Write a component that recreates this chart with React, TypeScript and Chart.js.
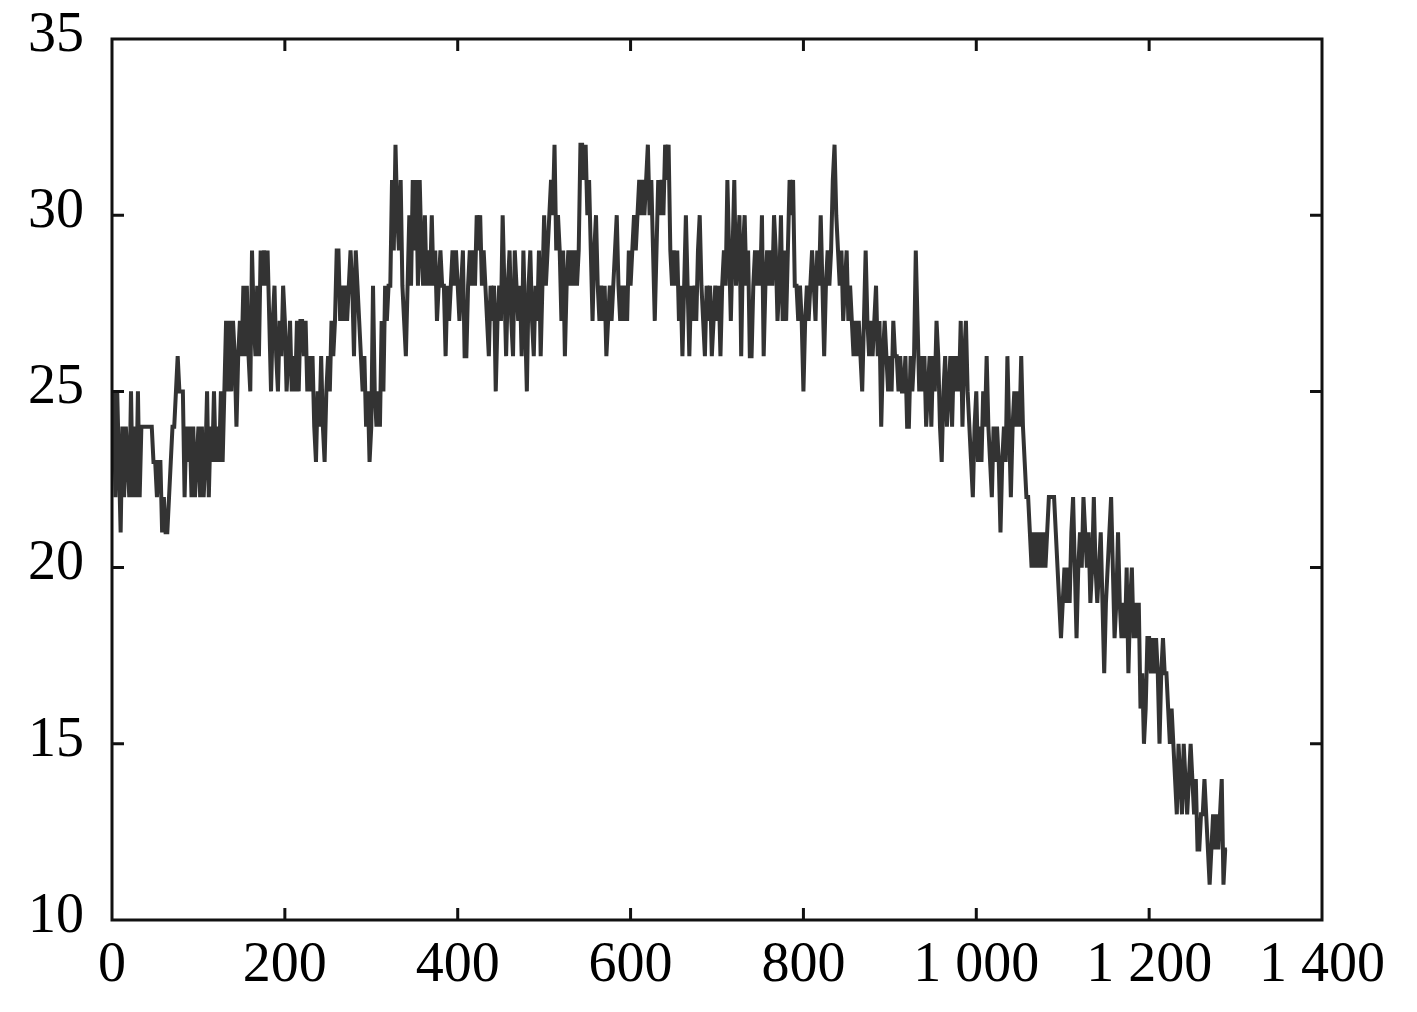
import React, { useEffect, useRef } from "react";
import { Chart, registerables } from "chart.js";

Chart.register(...registerables);

const sampleStep = 2;
const y0000 = [23, 25, 22, 25, 23, 21, 24, 22, 24, 23, 22, 25, 22, 24, 22, 25, 22, 24, 24, 24, 24, 24, 24, 24, 23, 23, 22, 23, 23, 21, 22, 21, 21, 22, 23, 24, 24, 25, 26, 25, 25, 25, 22, 24, 23, 24, 22, 24, 22, 23];
const y0100 = [24, 22, 24, 22, 23, 25, 22, 24, 23, 25, 23, 24, 23, 25, 23, 25, 27, 25, 27, 25, 27, 26, 24, 26, 27, 26, 28, 26, 28, 26, 25, 29, 27, 26, 28, 26, 29, 28, 29, 28, 29, 27, 25, 27, 28, 26, 25, 27, 26, 28];
const y0200 = [27, 25, 26, 27, 25, 26, 25, 27, 25, 27, 27, 26, 27, 25, 26, 25, 26, 24, 23, 25, 24, 26, 24, 23, 25, 26, 25, 27, 26, 27, 29, 29, 27, 28, 27, 28, 27, 28, 29, 28, 26, 29, 28, 27, 26, 25, 26, 24, 25, 23];
const y0300 = [24, 28, 25, 24, 25, 24, 27, 25, 28, 27, 28, 28, 31, 29, 32, 30, 29, 31, 28, 27, 26, 28, 30, 28, 31, 29, 31, 28, 31, 29, 28, 30, 28, 29, 28, 30, 28, 29, 27, 28, 29, 28, 28, 26, 28, 27, 28, 29, 28, 29];
const y0400 = [28, 27, 28, 29, 26, 26, 28, 29, 28, 29, 28, 30, 29, 30, 28, 29, 28, 27, 26, 28, 27, 28, 25, 27, 28, 27, 30, 28, 26, 28, 29, 27, 26, 29, 28, 27, 28, 26, 29, 27, 25, 28, 29, 27, 26, 28, 27, 29, 26, 28];
const y0500 = [30, 28, 29, 30, 31, 30, 32, 29, 30, 29, 27, 29, 26, 28, 29, 28, 29, 28, 29, 28, 29, 32, 32, 31, 32, 30, 31, 29, 27, 29, 30, 28, 27, 28, 27, 28, 26, 27, 28, 27, 28, 29, 30, 28, 27, 28, 27, 28, 27, 29];
const y0600 = [28, 29, 30, 29, 30, 31, 30, 31, 30, 31, 32, 30, 31, 29, 27, 29, 31, 30, 31, 30, 32, 31, 32, 29, 28, 29, 28, 29, 27, 28, 26, 28, 30, 28, 26, 28, 27, 28, 27, 29, 30, 28, 27, 26, 28, 27, 28, 26, 27, 28];
const y0700 = [27, 28, 26, 28, 29, 28, 31, 29, 27, 29, 31, 28, 29, 30, 26, 29, 30, 28, 29, 26, 26, 28, 29, 28, 29, 28, 30, 26, 28, 29, 28, 29, 28, 30, 29, 27, 28, 30, 27, 29, 27, 29, 31, 30, 31, 28, 28, 27, 28, 27];
const y0800 = [25, 27, 28, 27, 28, 29, 28, 27, 29, 28, 30, 28, 26, 28, 29, 28, 29, 31, 32, 30, 29, 28, 29, 27, 28, 29, 27, 28, 27, 26, 27, 26, 27, 26, 25, 27, 29, 27, 26, 27, 26, 27, 28, 26, 27, 24, 26, 27, 26, 25];
const y0900 = [26, 25, 27, 26, 26, 25, 26, 25, 25, 26, 24, 24, 26, 25, 26, 29, 27, 25, 26, 25, 26, 24, 25, 26, 24, 26, 25, 27, 26, 24, 23, 25, 26, 24, 25, 26, 24, 26, 25, 26, 25, 27, 24, 26, 27, 25, 24, 23, 22, 24];
const y1000 = [25, 23, 24, 23, 25, 24, 26, 24, 23, 22, 24, 23, 24, 23, 21, 23, 24, 23, 26, 24, 22, 24, 25, 24, 25, 24, 26, 24, 23, 22, 22, 21, 20, 21, 20, 21, 20, 21, 20, 21, 20, 21, 22, 22, 22, 22, 21, 20, 19, 18];
const y1100 = [19, 20, 19, 20, 19, 21, 22, 20, 18, 20, 21, 20, 22, 21, 20, 21, 19, 20, 22, 20, 19, 20, 21, 19, 17, 19, 20, 21, 22, 20, 18, 19, 21, 19, 18, 19, 18, 20, 17, 19, 20, 18, 19, 18, 19, 16, 17, 15, 16, 18];
const y1200 = [18, 17, 18, 17, 18, 17, 15, 17, 18, 17, 17, 16, 15, 16, 15, 14, 13, 15, 14, 13, 15, 14, 13, 14, 15, 14, 13, 14, 12, 12, 13, 13, 14, 13, 12, 11, 12, 13, 12, 13, 12, 13, 14, 11, 12, 12];

const yValues = [
  ...y0000, ...y0100, ...y0200, ...y0300, ...y0400, ...y0500, ...y0600,
  ...y0700, ...y0800, ...y0900, ...y1000, ...y1100, ...y1200,
];

const xMin = 0;
const xMax = 1400;
const xStep = 200;
const yMin = 10;
const yMax = 35;
const yStep = 5;

const FONT = "'Liberation Serif', 'Times New Roman', serif";

function fmt(v: number): string {
  const s = String(Math.round(v));
  return s.replace(/\B(?=(\d{3})+(?!\d))/g, " ");
}

const framePlugin = {
  id: "frameTicks",
  afterDraw(chart: any) {
    const { ctx, chartArea } = chart;
    const { left, right, top, bottom } = chartArea;
    const xs = chart.scales.x;
    const ys = chart.scales.y;
    const len = 12;
    ctx.save();
    ctx.strokeStyle = "#111111";
    ctx.lineWidth = 3;
    ctx.lineCap = "butt";
    ctx.strokeRect(left, top, right - left, bottom - top);
    ctx.beginPath();
    xs.ticks.forEach((t: any) => {
      if (t.value === xMin || t.value === xMax) return;
      const px = xs.getPixelForValue(t.value);
      ctx.moveTo(px, bottom);
      ctx.lineTo(px, bottom - len);
      ctx.moveTo(px, top);
      ctx.lineTo(px, top + len);
    });
    ys.ticks.forEach((t: any) => {
      if (t.value === yMin || t.value === yMax) return;
      const py = ys.getPixelForValue(t.value);
      ctx.moveTo(left, py);
      ctx.lineTo(left + len, py);
      ctx.moveTo(right, py);
      ctx.lineTo(right - len, py);
    });
    ctx.stroke();
    ctx.restore();
  },
};

export default function App() {
  const ref = useRef<HTMLCanvasElement | null>(null);

  useEffect(() => {
    document.body.style.margin = "0";
    const canvas = ref.current;
    if (!canvas) return;
    const points = yValues.map((v, i) => ({ x: i * sampleStep, y: v }));
    const chart = new Chart(canvas, {
      type: "line",
      data: {
        datasets: [
          {
            data: points,
            borderColor: "#333333",
            borderWidth: 4,
            borderJoinStyle: "miter",
            pointRadius: 0,
            tension: 0,
            fill: false,
          },
        ],
      },
      options: {
        animation: false,
        responsive: false,
        devicePixelRatio: 1,
        layout: { padding: { top: 39, right: 95, left: 0, bottom: 0 } },
        plugins: { legend: { display: false }, tooltip: { enabled: false } },
        scales: {
          x: {
            type: "linear",
            min: xMin,
            max: xMax,
            grid: { display: false, drawTicks: false },
            border: { display: false },
            ticks: {
              stepSize: xStep,
              autoSkip: false,
              maxRotation: 0,
              padding: 13,
              color: "#000000",
              font: { family: FONT, size: 56 },
              callback: (v: any) => fmt(Number(v)),
            },
            afterFit: (s: any) => {
              s.height = 92;
              s.paddingLeft = 0;
              s.paddingRight = 0;
            },
          },
          y: {
            type: "linear",
            min: yMin,
            max: yMax,
            grid: { display: false, drawTicks: false },
            border: { display: false },
            ticks: {
              stepSize: yStep,
              padding: 28,
              labelOffset: -3,
              color: "#000000",
              font: { family: FONT, size: 56 },
              callback: (v: any) => fmt(Number(v)),
            },
            afterFit: (s: any) => {
              s.width = 112;
              s.paddingTop = 0;
              s.paddingBottom = 0;
            },
          },
        },
      },
      plugins: [framePlugin],
    });
    return () => chart.destroy();
  }, []);

  return (
    <div style={{ width: 1417, height: 1012, background: "#ffffff" }}>
      <canvas ref={ref} width={1417} height={1012} style={{ display: "block" }} />
    </div>
  );
}
